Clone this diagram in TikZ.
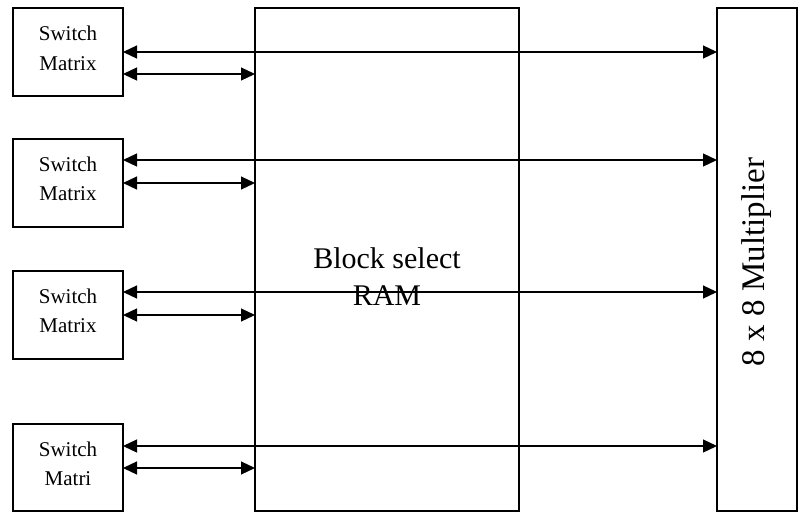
\documentclass[tikz,border=0pt]{standalone}
\usepackage{fontspec}
\setmainfont{Liberation Serif}
\usetikzlibrary{arrows.meta}
\begin{document}
\begin{tikzpicture}[x=1pt,y=-1pt,
  box/.style={draw,line width=1.6pt,rectangle,outer sep=0pt,inner sep=0pt},
  swbox/.style={box,minimum width=110pt,minimum height=88pt,anchor=north west},
  swtext/.style={anchor=base,inner sep=0pt,font=\fontsize{21}{25}\selectfont},
  ramtext/.style={anchor=base,inner sep=0pt,font=\fontsize{30}{36}\selectfont},
  conn/.style={line width=1.2pt,{Triangle[length=14pt,width=13pt]}-{Triangle[length=14pt,width=13pt]}}]
\useasboundingbox (0,0) rectangle (798,512);
% boxes
\node[swbox] (s1) at (13,8) {};
\node[swbox] (s2) at (13,139) {};
\node[swbox] (s3) at (13,271) {};
\node[swbox,minimum height=87pt] (s4) at (13,424) {};
\node[box,minimum width=264pt,minimum height=503pt,anchor=north west] (ram) at (255,8) {};
\node[box,minimum width=80pt,minimum height=503pt,anchor=north west] (mul) at (717,8) {};
% texts
\node[swtext] (t1a) at (68,40) {Switch};
\node[swtext] (t1b) at (68,70) {Matrix};
\node[swtext] (t2a) at (68,171) {Switch};
\node[swtext] (t2b) at (68,200) {Matrix};
\node[swtext] (t3a) at (68,303) {Switch};
\node[swtext] (t3b) at (68,332) {Matrix};
\node[swtext] (t4a) at (68,456) {Switch};
\node[swtext] (t4b) at (68,485) {Matri};
\node[ramtext] (r1) at (387,268) {Block select};
\node[ramtext] (r2) at (387,305) {RAM};
\node[rotate=90,inner sep=0pt,font=\fontsize{33}{38}\selectfont] (mt) at (757,262) {8 x 8 Multiplier};
% connector levels
\coordinate (l1) at (0,52);  \coordinate (k1) at (0,74);
\coordinate (l2) at (0,160); \coordinate (k2) at (0,183);
\coordinate (l3) at (0,292); \coordinate (k3) at (0,315);
\coordinate (l4) at (0,446); \coordinate (k4) at (0,468);
\foreach \i in {1,2,3,4}{
  \draw[conn] (s\i.east |- l\i) -- (mul.west |- l\i);
  \draw[conn] (s\i.east |- k\i) -- (ram.west |- k\i);
}
\end{tikzpicture}
\end{document}
